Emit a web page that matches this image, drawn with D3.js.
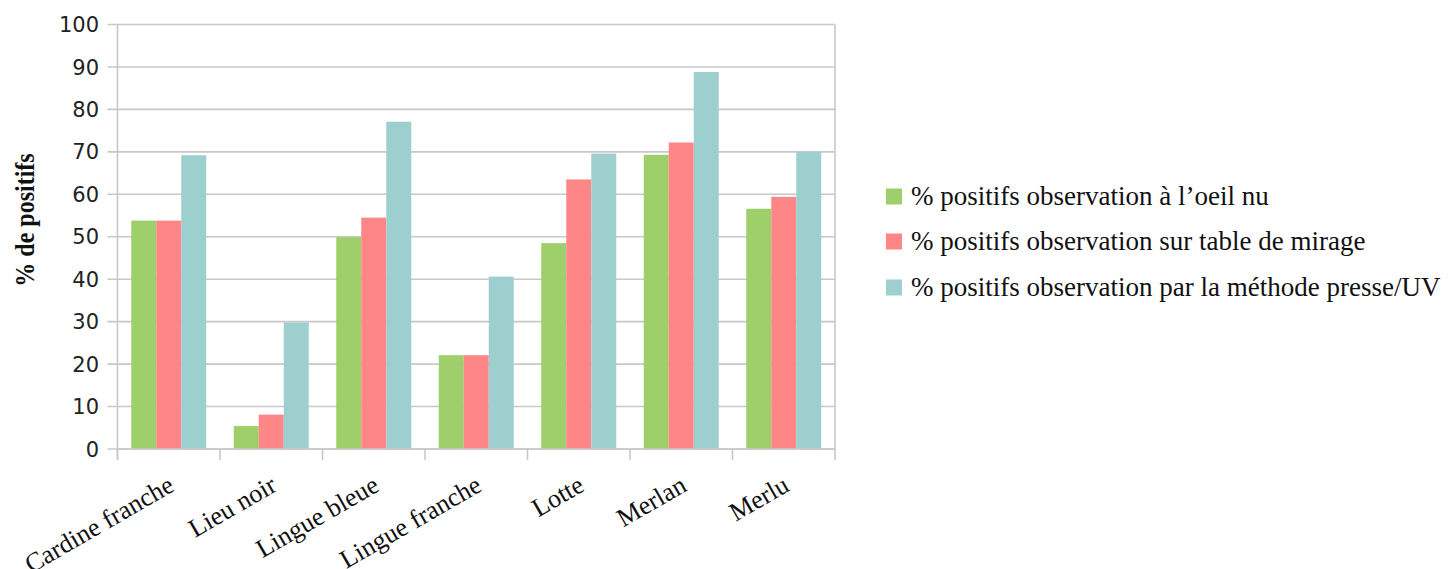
<!DOCTYPE html>
<html>
<head>
<meta charset="utf-8">
<script src="https://cdn.jsdelivr.net/npm/d3@7"></script>
<style>
html,body{margin:0;padding:0;background:#fff;}
svg{display:block;}
</style>
</head>
<body>
<svg id="chart" width="1448" height="569"></svg>
<script>
const categories = ["Cardine franche","Lieu noir","Lingue bleue","Lingue franche","Lotte","Merlan","Merlu"];
const seriesNames = [
  "% positifs observation à l’oeil nu",
  "% positifs observation sur table de mirage",
  "% positifs observation par la méthode presse/UV"
];
const oeilNu = [53.8, 5.4, 49.9, 22.1, 48.5, 69.3, 56.6];
const tableMirage = [53.8, 8.1, 54.5, 22.1, 63.5, 72.2, 59.4];
const presseUV = [69.2, 29.8, 77.1, 40.6, 69.6, 88.8, 70.0];
const yTicks = [0,10,20,30,40,50,60,70,80,90,100];
const colors = ["#9ecf6b","#ff8686","#9ecfcf"];

(function(){
const seriesValues = [oeilNu, tableMirage, presseUV];
const svg = d3.select("#chart");
const pLeft = 117.5, pRight = 835, pTop = 24.5, pBottom = 449;
const grid = "#c8c8c8";
const serif = "Liberation Serif, Times New Roman, serif";

const x = d3.scaleBand().domain(categories).range([pLeft, pRight]).paddingInner(0).paddingOuter(0);
const x1 = d3.scaleBand().domain(d3.range(3)).range([0, x.bandwidth()]).paddingOuter(0.55).paddingInner(0);
const y = d3.scaleLinear().domain([0,100]).range([pBottom, pTop]);

// gridlines
svg.append("g").selectAll("line").data(yTicks).join("line")
  .attr("x1", pLeft - 10).attr("x2", pRight)
  .attr("y1", d => y(d)).attr("y2", d => y(d))
  .attr("stroke", grid).attr("stroke-width", 1.6);

// right border
svg.append("line").attr("x1", pRight).attr("x2", pRight).attr("y1", pTop).attr("y2", pBottom)
  .attr("stroke", grid).attr("stroke-width", 1.6);

// bars
const g = svg.append("g");
seriesValues.forEach((vals, si) => {
  g.append("g").selectAll("rect").data(vals).join("rect")
    .attr("x", (d,i) => x(categories[i]) + x1(si))
    .attr("width", x1.bandwidth())
    .attr("y", d => y(d))
    .attr("height", d => y(0) - y(d))
    .attr("fill", colors[si]);
});

// axis line and ticks
svg.append("line").attr("x1", pLeft).attr("x2", pLeft).attr("y1", pTop).attr("y2", pBottom + 11)
  .attr("stroke", grid).attr("stroke-width", 1.6);
svg.append("line").attr("x1", pLeft).attr("x2", pRight).attr("y1", pBottom).attr("y2", pBottom)
  .attr("stroke", grid).attr("stroke-width", 1.6);
const bounds = categories.map(c => x(c)).concat([pRight]);
svg.append("g").selectAll("line").data(bounds).join("line")
  .attr("x1", d => d).attr("x2", d => d).attr("y1", pBottom).attr("y2", pBottom + 11)
  .attr("stroke", grid).attr("stroke-width", 1.6);

// y tick labels
svg.append("g").selectAll("text").data(yTicks).join("text")
  .attr("x", 99).attr("y", d => y(d)).attr("dy", "0.36em")
  .attr("text-anchor", "end")
  .attr("font-family", "DejaVu Sans, sans-serif")
  .attr("font-size", 21).attr("fill", "#222")
  .text(d => d);

// x labels
svg.append("g").selectAll("text").data(categories).join("text")
  .attr("transform", d => `translate(${x(d) + x.bandwidth()/2 + 7},490) rotate(-30)`)
  .attr("text-anchor", "end")
  .attr("font-family", serif)
  .attr("font-size", 26).attr("fill", "#111")
  .text(d => d);

// y title
svg.append("text")
  .attr("transform", `translate(34,220) scale(1.1,1) rotate(-90)`)
  .attr("text-anchor", "middle")
  .attr("font-family", serif)
  .attr("font-weight", "bold")
  .attr("font-size", 24).attr("fill", "#111")
  .text("% de positifs");

// legend
const legY = [196.5, 241.5, 287.5];
const leg = svg.append("g").selectAll("g").data(seriesNames).join("g")
  .attr("transform", (d,i) => `translate(886,${legY[i]})`);
leg.append("rect").attr("x", 0).attr("y", -8).attr("width", 16).attr("height", 16)
  .attr("fill", (d,i) => colors[i]);
leg.append("text").attr("x", 25).attr("y", 0).attr("dy", "0.33em")
  .attr("font-family", serif)
  .attr("font-size", 27).attr("fill", "#111")
  .text(d => d);
})();
</script>
</body>
</html>
